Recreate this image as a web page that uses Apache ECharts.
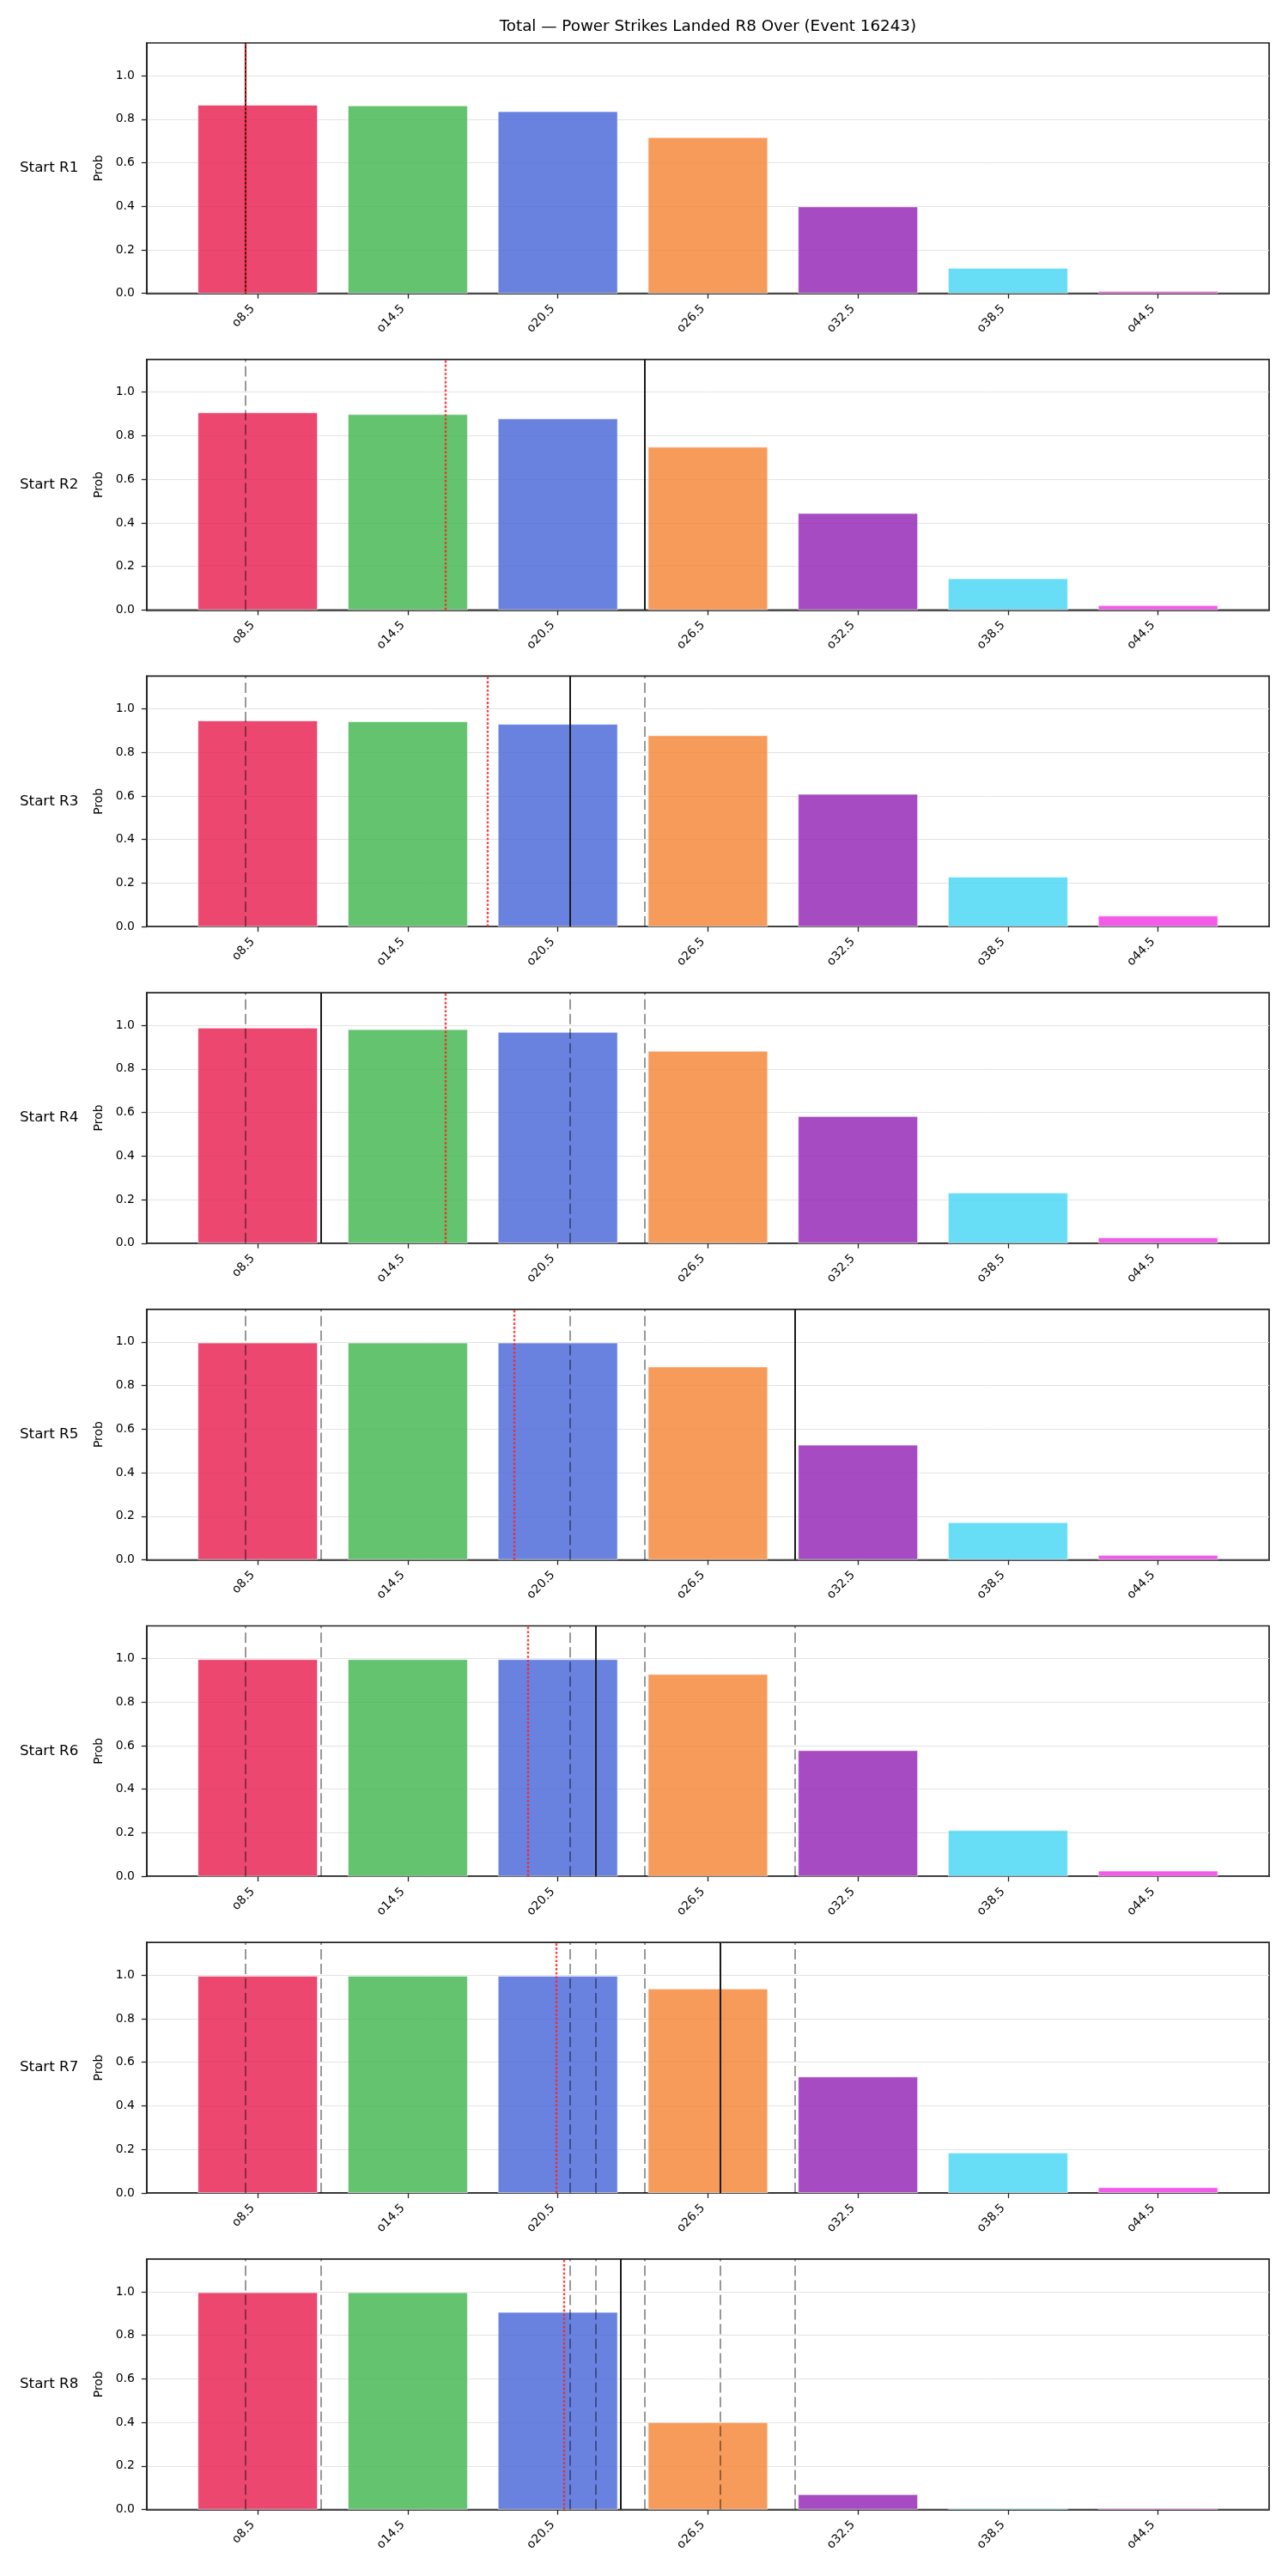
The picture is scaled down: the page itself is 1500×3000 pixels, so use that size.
<!DOCTYPE html>
<html><head><meta charset="utf-8">
<script src="https://cdn.jsdelivr.net/npm/echarts@6/dist/echarts.min.js"></script>
<style>html,body{margin:0;padding:0;background:#fff}#chart{width:1500px;height:3000px}</style>
</head><body><div id="chart"></div>
<script>
// ---- data ----
const chartTitle = 'Total \u2014 Power Strikes Landed R8 Over (Event 16243)';
const categories = ['o8.5', 'o14.5', 'o20.5', 'o26.5', 'o32.5', 'o38.5', 'o44.5'];
const rowLabels = ['Start R1', 'Start R2', 'Start R3', 'Start R4', 'Start R5', 'Start R6', 'Start R7', 'Start R8'];
const yTickValues = [0, 0.2, 0.4, 0.6, 0.8, 1.0];

const probR1 = [0.866, 0.863, 0.836, 0.717, 0.399, 0.117, 0.011];
const probR2 = [0.907, 0.899, 0.879, 0.749, 0.445, 0.145, 0.022];
const probR3 = [0.946, 0.942, 0.930, 0.878, 0.609, 0.229, 0.050];
const probR4 = [0.989, 0.982, 0.970, 0.883, 0.583, 0.232, 0.026];
const probR5 = [0.997, 0.997, 0.997, 0.887, 0.528, 0.172, 0.022];
const probR6 = [0.997, 0.997, 0.997, 0.929, 0.579, 0.212, 0.026];
const probR7 = [0.997, 0.997, 0.997, 0.938, 0.534, 0.185, 0.026];
const probR8 = [0.997, 0.997, 0.907, 0.401, 0.070, 0.007, 0.007];

// projected total (solid black) and market line (red dotted) per start round
const projectedLine = [8, 24, 21, 11, 30, 22, 27, 23];
const marketLine = [8.0, 16.0, 17.67, 16.0, 18.79, 19.31, 20.43, 20.75];

const barColors = ['#e6194b', '#3cb44b', '#4363d8', '#f58231', '#911eb4', '#42d4f4', '#f032e6'];

// ---- build ----
const rows = [probR1, probR2, probR3, probR4, probR5, probR6, probR7, probR8];
const FONT = 'DejaVu Sans';
const lineStart = parseFloat(categories[0].slice(1));
const lineStep = parseFloat(categories[1].slice(1)) - lineStart;
const toPos = v => (v - lineStart) / lineStep;

const GL = 170.8, GW = 1307.2, GT0 = 50, GSTEP = 368.7, GH = 291.7;
const XMIN = -0.74, XMAX = 6.74;
const barW = 0.8 * GW / (XMAX - XMIN);

const grids = [], xAxes = [], yAxes = [], series = [], graphics = [];
graphics.push({type: 'text', x: GL + GW / 2, y: 31.7, style: {text: chartTitle, font: '18.3px "DejaVu Sans"', fill: '#000', textAlign: 'center', textVerticalAlign: 'middle'}});

rows.forEach((vals, i) => {
  const top = GT0 + GSTEP * i;
  grids.push({left: GL, top: top, width: GW, height: GH, show: true, borderColor: '#222', borderWidth: 1.7, backgroundColor: 'transparent'});
  xAxes.push({
    type: 'value', gridIndex: i, min: XMIN, max: XMAX,
    axisLine: {show: true, onZero: false, lineStyle: {color: '#222', width: 1.7}},
    axisTick: {show: true, customValues: categories.map((c, j) => j), length: 6, lineStyle: {color: '#222', width: 1.3}},
    axisLabel: {show: true, customValues: categories.map((c, j) => j), rotate: 45, margin: 10, padding: [0, 8, 0, 0],
      formatter: v => categories[Math.round(v)] || '', fontFamily: FONT, fontSize: 13.9, color: '#000'},
    splitLine: {show: false}
  });
  yAxes.push({
    type: 'value', gridIndex: i, min: 0, max: 1.15, interval: 0.2,
    name: 'Prob', nameLocation: 'middle', nameGap: 48, nameTextStyle: {fontFamily: FONT, fontSize: 13.9, color: '#000'},
    axisLine: {show: true, onZero: false, lineStyle: {color: '#222', width: 1.7}},
    axisTick: {show: true, customValues: yTickValues, length: 6, lineStyle: {color: '#222', width: 1.3}},
    axisLabel: {show: true, customValues: yTickValues, margin: 14, formatter: v => v.toFixed(1), fontFamily: FONT, fontSize: 13.9, color: '#000'},
    splitLine: {show: true, lineStyle: {color: '#e3e3e3', width: 1}}
  });
  const mlData = [];
  for (let k = 0; k < i; k++) {
    mlData.push({xAxis: toPos(projectedLine[k]), lineStyle: {color: 'rgba(0,0,0,0.5)', width: 1.6, type: [12, 5]}});
  }
  mlData.push({xAxis: toPos(projectedLine[i]), lineStyle: {color: '#1a1a1a', width: 2, type: 'solid'}});
  mlData.push({xAxis: toPos(marketLine[i]), lineStyle: {color: 'rgba(255,30,30,0.85)', width: 2.4, type: [2.6, 2.2]}});
  series.push({
    type: 'bar', xAxisIndex: i, yAxisIndex: i, barWidth: barW,
    data: vals.map((v, j) => ({value: [j, v], itemStyle: {color: barColors[j]}})),
    itemStyle: {opacity: 0.8, borderColor: '#ffffff', borderWidth: 0.8},
    emphasis: {disabled: true},
    markLine: {symbol: ['none', 'none'], silent: true, animation: false, label: {show: false}, emphasis: {disabled: true}, data: mlData}
  });
  graphics.push({type: 'text', x: 23, y: top + GH / 2, style: {text: rowLabels[i], font: '16.7px "DejaVu Sans"', fill: '#000', textAlign: 'left', textVerticalAlign: 'middle'}});
});

const chart = echarts.init(document.getElementById('chart'), null, {renderer: 'canvas'});
chart.setOption({
  animation: false,
  backgroundColor: '#fff',
  grid: grids, xAxis: xAxes, yAxis: yAxes, series: series,
  graphic: graphics
});
</script></body></html>
